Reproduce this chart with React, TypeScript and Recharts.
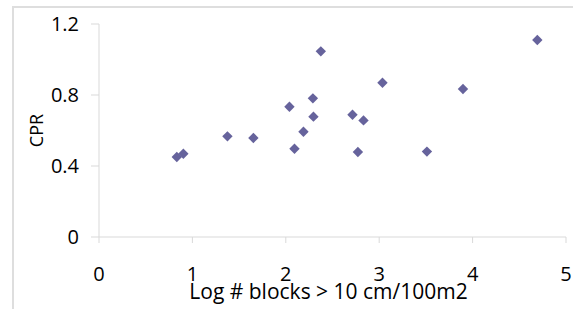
import React from "react";
import { ScatterChart, Scatter, XAxis, YAxis, Label } from "recharts";

const xValues = [0.833, 0.903, 1.375, 1.653, 2.039, 2.093, 2.189, 2.29, 2.296, 2.375, 2.714, 2.772, 2.832, 3.035, 3.511, 3.897, 4.693];
const cprValues = [0.451, 0.469, 0.567, 0.558, 0.734, 0.497, 0.593, 0.781, 0.678, 1.046, 0.689, 0.479, 0.657, 0.869, 0.481, 0.834, 1.11];
const xTicks = [0, 1, 2, 3, 4, 5];
const yTicks = [0, 0.4, 0.8, 1.2];

const data = xValues.map((x, i) => ({ x, y: cprValues[i] }));

const FONT = "'Open Sans', sans-serif";
const COLOR = "#66639c";

const Diamond = (props: any) => {
  const { cx, cy } = props;
  const r = 5.2;
  return (
    <polygon
      points={`${cx},${cy - r} ${cx + r},${cy} ${cx},${cy + r} ${cx - r},${cy}`}
      fill={COLOR}
    />
  );
};

export default function App() {
  return (
    <div style={{ position: "absolute", left: 0, top: 0, width: 573, height: 309, overflow: "hidden", background: "#fff" }}>
      <div
        style={{
          position: "absolute",
          left: 12,
          top: 6,
          width: 700,
          height: 400,
          borderLeft: "2px solid #dedede",
          borderTop: "2px solid #dedede",
        }}
      />
      <div style={{ position: "absolute", left: 0, top: 0 }}>
        <ScatterChart width={573} height={309} margin={{ top: 24, right: 7, bottom: 0, left: 0 }}>
          <XAxis
            type="number"
            dataKey="x"
            domain={[0, 5]}
            ticks={xTicks}
            interval={0}
            height={72}
            tickSize={6}
            tickMargin={24}
            axisLine={{ stroke: "#d9d9d9" }}
            tickLine={{ stroke: "#d9d9d9" }}
            tick={{ fill: "#000", fontSize: 20, fontFamily: FONT }}
          >
            <Label
              value="Log # blocks > 10 cm/100m2"
              position="insideBottom"
              offset={10}
              dx={-4}
              style={{ fill: "#000", fontSize: 21, fontFamily: FONT }}
            />
          </XAxis>
          <YAxis
            type="number"
            dataKey="y"
            domain={[0, 1.2]}
            ticks={yTicks}
            interval={0}
            width={99}
            tickSize={8}
            tickMargin={12}
            axisLine={{ stroke: "#d9d9d9" }}
            tickLine={{ stroke: "#d9d9d9" }}
            tick={{ fill: "#000", fontSize: 20, fontFamily: FONT }}
          >
            <Label
              content={(p: any) => {
                const vb = p.viewBox || {};
                const cx = (vb.x || 0) + 36;
                const cy = (vb.y || 0) + (vb.height || 0) / 2;
                return (
                  <text
                    x={cx}
                    y={cy}
                    transform={`rotate(-90 ${cx} ${cy})`}
                    textAnchor="middle"
                    dominantBaseline="central"
                    style={{ fill: "#000", fontSize: 18, fontFamily: FONT }}
                  >
                    CPR
                  </text>
                );
              }}
            />
          </YAxis>
          <Scatter data={data} fill={COLOR} shape={<Diamond />} isAnimationActive={false} />
        </ScatterChart>
      </div>
    </div>
  );
}
